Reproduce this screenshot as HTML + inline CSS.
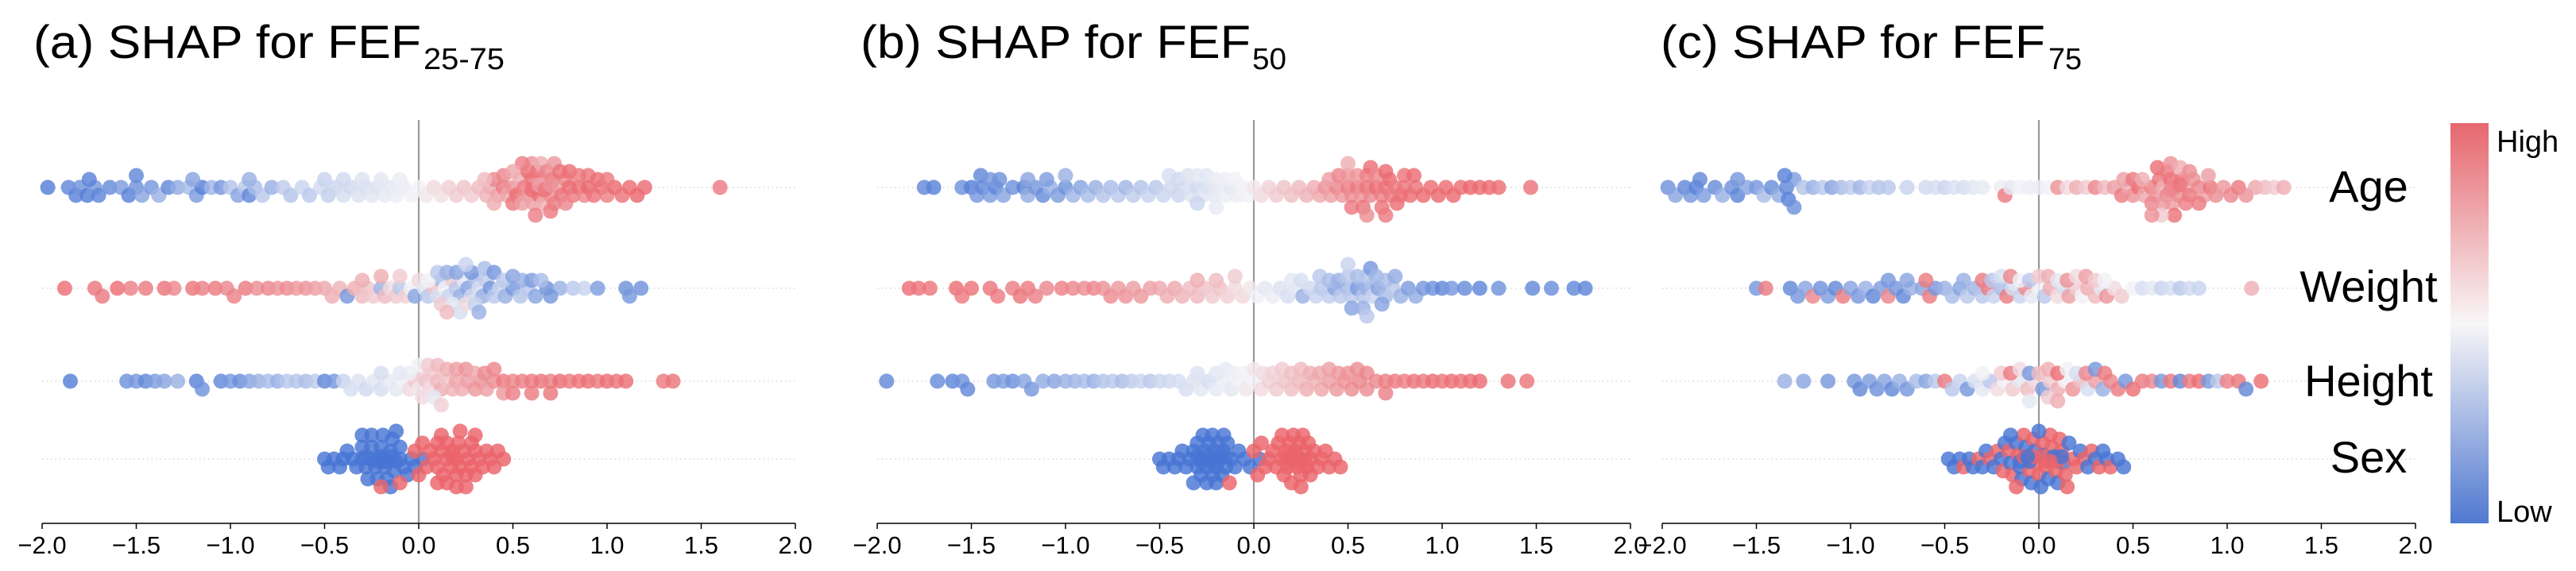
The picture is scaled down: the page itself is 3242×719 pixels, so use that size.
<!DOCTYPE html>
<html><head><meta charset="utf-8"><style>
html,body{margin:0;padding:0;background:#fff;}
svg{display:block;font-family:"Liberation Sans",Arial,sans-serif;}
</style></head><body>
<svg id="chart" width="3242" height="719" viewBox="0 0 3242 719" xmlns="http://www.w3.org/2000/svg">
<defs>
<linearGradient id="cbar" x1="0" y1="0" x2="0" y2="1">
<stop offset="0" stop-color="#e6676e"/>
<stop offset="0.5" stop-color="#f8f6f7"/>
<stop offset="1" stop-color="#5079d0"/>
</linearGradient>
</defs>
<g id="panels"></g>
<rect x="3084" y="155" width="48" height="504" fill="url(#cbar)"/>
<text x="3142" y="191" font-size="38">High</text>
<text x="3142" y="657" font-size="38">Low</text>
</svg>
<script>
// ---- data ----
const FEATURES = ["Age","Weight","Height","Sex"];
const X_TICKS = [-2.0,-1.5,-1.0,-0.5,0.0,0.5,1.0,1.5,2.0];
const X_TICK_LABELS = ["\u22122.0","\u22121.5","\u22121.0","\u22120.5","0.0","0.5","1.0","1.5","2.0"];
const PANEL_TITLES = ["(a) SHAP for FEF","(b) SHAP for FEF","(c) SHAP for FEF"];
const PANEL_SUBS = ["25-75","50","75"];

const A_AGE_X = [-1.97,-1.86,-1.82,-1.8,-1.76,-1.72,-1.7,-1.64,-1.58,-1.54,-1.5,-1.47,-1.42,-1.38,-1.33,-1.28,-1.22,-1.18,-1.15,-1.1,-1.05,-1.0,-0.96,-0.92,-0.9,-0.87,-0.83,-0.78,-0.72,-0.68,-0.62,-0.58,-0.52,-0.48,-0.44,-0.4,-0.36,-0.32,-0.28,-0.25,-0.22,-0.18,-0.15,-0.12,-0.08,-0.04,0.0,0.04,0.08,0.12,0.16,0.2,0.24,0.28,0.32,0.36,0.38,0.4,0.42,0.45,0.47,0.5,0.52,0.54,0.56,0.58,0.6,0.61,0.62,0.64,0.65,0.66,0.68,0.7,0.71,0.72,0.74,0.76,0.78,0.8,0.82,0.85,0.88,0.9,0.93,0.97,1.0,1.04,1.08,1.12,1.16,1.2,1.6];
const A_AGE_C = [0.02,0.05,0.03,0.08,0.02,0.1,0.04,0.06,0.12,0.03,0.08,0.15,0.1,0.2,0.05,0.18,0.25,0.12,0.02,0.22,0.1,0.28,0.15,0.3,0.05,0.25,0.3,0.2,0.32,0.28,0.35,0.3,0.38,0.33,0.36,0.4,0.38,0.42,0.4,0.44,0.42,0.46,0.45,0.48,0.47,0.5,0.5,0.52,0.55,0.54,0.58,0.6,0.62,0.6,0.65,0.68,0.7,0.85,0.75,0.9,0.72,0.8,0.95,0.7,0.88,0.78,0.92,0.75,0.85,0.95,0.8,0.7,0.9,0.82,0.97,0.88,0.75,0.92,0.85,0.95,0.9,0.95,0.85,0.98,0.92,0.95,0.88,0.97,0.93,0.95,0.98,0.96,0.9];
const A_AGE_X2 = [0.45,0.5,0.55,0.58,0.6,0.62,0.63,0.65,0.66,0.68,0.7,0.72,0.75,0.78,0.6,0.64,0.67,0.7,0.55,0.5,0.8,0.85,0.9,0.95,1.0,0.35,0.4,-0.3,-0.2,-0.1,-0.4,-0.5,-1.2,-1.5,-1.75,-0.9];
const A_AGE_C2 = [0.85,0.9,0.75,0.95,0.8,0.88,0.92,0.7,0.95,0.85,0.9,0.78,0.93,0.85,0.95,0.75,0.9,0.8,0.88,0.72,0.95,0.9,0.92,0.95,0.9,0.65,0.7,0.42,0.45,0.48,0.38,0.35,0.15,0.05,0.03,0.2];
const A_WEIGHT_X = [-1.88,-1.72,-1.68,-1.6,-1.53,-1.45,-1.35,-1.3,-1.2,-1.15,-1.08,-1.02,-0.98,-0.92,-0.86,-0.8,-0.75,-0.7,-0.65,-0.6,-0.55,-0.5,-0.46,-0.42,-0.38,-0.34,-0.3,-0.27,-0.24,-0.2,-0.18,-0.15,-0.12,-0.1,-0.07,-0.04,-0.02,0.0,0.03,0.05,0.08,0.1,0.12,0.14,0.16,0.18,0.2,0.22,0.24,0.26,0.28,0.3,0.32,0.34,0.36,0.38,0.4,0.43,0.46,0.5,0.54,0.58,0.62,0.68,0.75,0.82,0.88,0.95,1.1,1.12,1.18];
const A_WEIGHT_C = [0.95,0.92,0.9,0.95,0.88,0.9,0.93,0.85,0.92,0.88,0.9,0.85,0.87,0.9,0.82,0.85,0.8,0.83,0.78,0.8,0.75,0.72,0.7,0.68,0.1,0.7,0.65,0.62,0.6,0.2,0.65,0.55,0.6,0.3,0.58,0.5,0.15,0.55,0.45,0.3,0.62,0.4,0.25,0.5,0.35,0.6,0.3,0.2,0.45,0.15,0.38,0.25,0.4,0.2,0.32,0.1,0.3,0.35,0.2,0.1,0.28,0.3,0.15,0.08,0.2,0.3,0.35,0.12,0.08,0.1,0.08];
const A_WEIGHT_X2 = [0.05,0.1,0.12,0.15,0.18,0.2,0.22,0.25,0.28,0.3,0.32,0.35,0.4,0.45,0.5,0.55,0.6,0.65,0.7,-0.1,-0.2,-0.3,0.15,0.25];
const A_WEIGHT_C2 = [0.5,0.3,0.6,0.2,0.45,0.15,0.4,0.55,0.1,0.35,0.2,0.25,0.1,0.3,0.15,0.2,0.12,0.25,0.1,0.6,0.7,0.7,0.65,0.35];
const A_HEIGHT_X = [-1.85,-1.55,-1.5,-1.45,-1.4,-1.35,-1.28,-1.18,-1.15,-1.05,-1.0,-0.95,-0.9,-0.85,-0.8,-0.75,-0.7,-0.65,-0.6,-0.55,-0.5,-0.45,-0.4,-0.36,-0.32,-0.28,-0.24,-0.2,-0.16,-0.12,-0.08,-0.05,-0.02,0.0,0.02,0.04,0.06,0.08,0.1,0.12,0.15,0.18,0.2,0.23,0.26,0.3,0.33,0.36,0.4,0.45,0.5,0.55,0.6,0.65,0.7,0.75,0.8,0.85,0.9,0.95,1.0,1.05,1.1,1.3,1.35];
const A_HEIGHT_C = [0.02,0.08,0.1,0.05,0.12,0.15,0.2,0.03,0.08,0.05,0.1,0.07,0.15,0.2,0.25,0.2,0.3,0.28,0.25,0.32,0.05,0.1,0.35,0.4,0.42,0.38,0.44,0.4,0.46,0.45,0.5,0.55,0.6,0.52,0.58,0.62,0.55,0.6,0.65,0.7,0.62,0.68,0.72,0.7,0.75,0.78,0.8,0.75,0.82,0.9,0.85,0.88,0.9,0.92,0.88,0.95,0.9,0.93,0.95,0.9,0.95,0.92,0.95,0.9,0.92];
const A_HEIGHT_X2 = [0.0,0.02,0.05,0.08,0.1,0.12,0.15,0.2,0.25,0.3,0.35,0.4,0.45,0.5,0.6,0.7,-0.05,-0.1,-0.2];
const A_HEIGHT_C2 = [0.5,0.55,0.6,0.45,0.65,0.58,0.7,0.75,0.8,0.72,0.82,0.85,0.78,0.88,0.9,0.92,0.48,0.45,0.4];
const A_SEX_X = [-0.5,-0.48,-0.45,-0.42,-0.4,-0.38,-0.35,-0.33,-0.3,-0.3,-0.28,-0.27,-0.25,-0.25,-0.23,-0.22,-0.2,-0.2,-0.19,-0.18,-0.17,-0.16,-0.15,-0.15,-0.14,-0.13,-0.12,-0.1,-0.1,-0.08,-0.06,-0.04,-0.02,0.02,-0.2,-0.1,-0.02,0.0,0.02,0.04,0.06,0.08,0.1,0.1,0.12,0.13,0.15,0.15,0.17,0.18,0.2,0.2,0.21,0.22,0.24,0.25,0.26,0.28,0.3,0.3,0.32,0.34,0.36,0.38,0.4,0.42,0.45];
const A_SEX_C = [0,0,0,0,0,0,0,0,0,0,0,0,0,0,0,0,0,0,0,0,0,0,0,0,0,0,0,0,0,0,0,0,0,0,1,1,1,1,1,1,1,1,1,1,1,1,1,1,1,1,1,1,1,1,1,1,1,1,1,1,1,1,1,1,1,1,1];
const A_SEX_X2 = [-0.3,-0.25,-0.22,-0.2,-0.18,-0.15,-0.12,-0.28,-0.16,0.1,0.15,0.2,0.22,0.25,0.28,0.18,0.12,0.3];
const A_SEX_C2 = [0,0,0,0,0,0,0,0,0,1,1,1,1,1,1,1,1,1];

const B_AGE_X = [-1.75,-1.7,-1.55,-1.5,-1.47,-1.44,-1.4,-1.37,-1.33,-1.28,-1.22,-1.2,-1.16,-1.12,-1.08,-1.04,-1.0,-0.96,-0.92,-0.88,-0.84,-0.8,-0.76,-0.72,-0.68,-0.64,-0.6,-0.56,-0.52,-0.48,-0.44,-0.4,-0.36,-0.33,-0.3,-0.27,-0.24,-0.21,-0.18,-0.15,-0.12,-0.09,-0.06,-0.03,0.0,0.04,0.08,0.12,0.16,0.2,0.24,0.28,0.32,0.35,0.38,0.41,0.44,0.47,0.5,0.52,0.55,0.57,0.6,0.62,0.65,0.68,0.7,0.72,0.75,0.78,0.8,0.83,0.86,0.9,0.94,0.98,1.02,1.06,1.1,1.15,1.2,1.25,1.3,1.47];
const B_AGE_C = [0.05,0.03,0.08,0.02,0.1,0.05,0.12,0.04,0.15,0.08,0.03,0.18,0.1,0.06,0.2,0.12,0.08,0.22,0.15,0.25,0.2,0.28,0.25,0.3,0.22,0.32,0.28,0.35,0.3,0.36,0.38,0.36,0.4,0.42,0.38,0.44,0.42,0.45,0.46,0.48,0.44,0.48,0.5,0.5,0.52,0.55,0.58,0.6,0.62,0.64,0.66,0.68,0.7,0.72,0.8,0.75,0.85,0.78,0.88,0.82,0.9,0.8,0.92,0.85,0.95,0.88,0.93,0.97,0.9,0.95,0.92,0.95,0.93,0.97,0.95,0.98,0.96,0.97,0.95,0.98,0.97,0.96,0.95,0.93];
const B_AGE_X2 = [0.4,0.45,0.5,0.52,0.55,0.58,0.6,0.62,0.65,0.68,0.7,0.73,0.76,0.8,0.85,0.5,0.6,0.7,-0.45,-0.4,-0.35,-0.3,-0.25,-0.2,-0.15,-0.1,-0.3,-0.2,-1.45,-1.4,-1.35,-1.2,-1.1,-1.0];
const B_AGE_C2 = [0.75,0.85,0.8,0.9,0.78,0.92,0.88,0.95,0.85,0.93,0.97,0.9,0.95,0.93,0.96,0.7,0.82,0.9,0.4,0.38,0.42,0.45,0.44,0.47,0.48,0.5,0.36,0.46,0.05,0.1,0.08,0.15,0.12,0.2];
const B_WEIGHT_X = [-1.83,-1.78,-1.72,-1.58,-1.55,-1.5,-1.4,-1.36,-1.28,-1.24,-1.2,-1.16,-1.1,-1.02,-0.96,-0.9,-0.85,-0.8,-0.76,-0.72,-0.68,-0.64,-0.6,-0.55,-0.5,-0.46,-0.42,-0.38,-0.34,-0.3,-0.26,-0.22,-0.18,-0.14,-0.1,-0.06,-0.02,0.02,0.06,0.1,0.14,0.18,0.22,0.26,0.3,0.33,0.36,0.4,0.43,0.46,0.5,0.52,0.55,0.58,0.6,0.63,0.66,0.7,0.74,0.78,0.82,0.86,0.9,0.95,1.0,1.05,1.12,1.2,1.3,1.48,1.58,1.7,1.76];
const B_WEIGHT_C = [0.95,0.93,0.92,0.95,0.9,0.93,0.92,0.9,0.88,0.92,0.9,0.88,0.85,0.88,0.85,0.82,0.85,0.8,0.83,0.78,0.8,0.75,0.78,0.75,0.72,0.7,0.72,0.68,0.65,0.66,0.62,0.6,0.62,0.58,0.55,0.56,0.52,0.5,0.45,0.48,0.42,0.4,0.45,0.2,0.38,0.35,0.3,0.32,0.15,0.3,0.25,0.3,0.12,0.28,0.2,0.35,0.15,0.25,0.3,0.2,0.12,0.18,0.1,0.08,0.05,0.1,0.06,0.04,0.08,0.05,0.07,0.05,0.04];
const B_WEIGHT_X2 = [0.35,0.4,0.45,0.5,0.52,0.55,0.58,0.6,0.62,0.65,0.68,0.7,0.75,0.5,0.6,0.2,0.25,-0.2,-0.3,-0.1];
const B_WEIGHT_C2 = [0.3,0.25,0.2,0.3,0.15,0.25,0.2,0.28,0.1,0.22,0.15,0.25,0.18,0.35,0.3,0.45,0.4,0.65,0.7,0.6];
const B_HEIGHT_X = [-1.95,-1.68,-1.6,-1.55,-1.52,-1.38,-1.33,-1.28,-1.22,-1.18,-1.12,-1.06,-1.0,-0.95,-0.9,-0.85,-0.8,-0.75,-0.7,-0.65,-0.6,-0.55,-0.5,-0.45,-0.4,-0.36,-0.32,-0.28,-0.24,-0.2,-0.16,-0.12,-0.08,-0.04,0.0,0.04,0.08,0.12,0.16,0.2,0.24,0.28,0.32,0.36,0.4,0.44,0.48,0.52,0.56,0.6,0.65,0.7,0.75,0.8,0.85,0.9,0.95,1.0,1.05,1.1,1.15,1.2,1.35,1.45];
const B_HEIGHT_C = [0.05,0.06,0.04,0.08,0.05,0.1,0.12,0.08,0.15,0.1,0.18,0.15,0.2,0.22,0.25,0.2,0.28,0.3,0.25,0.32,0.35,0.3,0.36,0.38,0.4,0.4,0.42,0.44,0.4,0.46,0.48,0.45,0.5,0.52,0.5,0.55,0.58,0.6,0.62,0.64,0.66,0.7,0.68,0.72,0.75,0.78,0.8,0.82,0.85,0.83,0.85,0.88,0.9,0.88,0.92,0.9,0.95,0.92,0.95,0.93,0.95,0.96,0.94,0.92];
const B_HEIGHT_X2 = [-0.3,-0.2,-0.15,-0.1,-0.05,0.0,0.05,0.1,0.15,0.2,0.25,0.3,0.35,0.4,0.45,0.5,0.55,0.6,0.7];
const B_HEIGHT_C2 = [0.42,0.44,0.46,0.48,0.5,0.52,0.55,0.58,0.6,0.64,0.66,0.7,0.72,0.75,0.78,0.8,0.82,0.85,0.88];
const B_SEX_X = [-0.5,-0.48,-0.45,-0.42,-0.4,-0.38,-0.36,-0.34,-0.32,-0.3,-0.3,-0.28,-0.28,-0.27,-0.26,-0.25,-0.25,-0.24,-0.23,-0.22,-0.22,-0.21,-0.2,-0.2,-0.19,-0.18,-0.17,-0.16,-0.15,-0.14,-0.12,-0.1,-0.08,-0.05,-0.02,0.03,-0.13,0.0,0.02,0.04,0.06,0.08,0.1,0.12,0.13,0.15,0.16,0.17,0.18,0.19,0.2,0.2,0.21,0.22,0.23,0.24,0.25,0.25,0.26,0.27,0.28,0.3,0.32,0.34,0.36,0.38,0.4,0.43,0.46];
const B_SEX_C = [0,0,0,0,0,0,0,0,0,0,0,0,0,0,0,0,0,0,0,0,0,0,0,0,0,0,0,0,0,0,0,0,0,0,0,0,1,1,1,1,1,1,1,1,1,1,1,1,1,1,1,1,1,1,1,1,1,1,1,1,1,1,1,1,1,1,1,1,1];
const B_SEX_X2 = [-0.32,-0.3,-0.28,-0.26,-0.24,-0.22,-0.2,-0.18,-0.16,-0.15,0.15,0.17,0.19,0.21,0.23,0.25,0.27,0.29,0.3,0.2];
const B_SEX_C2 = [0,0,0,0,0,0,0,0,0,0,1,1,1,1,1,1,1,1,1,1];

const C_AGE_X = [-1.97,-1.93,-1.88,-1.85,-1.82,-1.78,-1.72,-1.68,-1.63,-1.6,-1.55,-1.5,-1.46,-1.42,-1.38,-1.34,-1.33,-1.3,-1.25,-1.2,-1.15,-1.1,-1.05,-1.0,-0.95,-0.9,-0.85,-0.8,-0.7,-0.6,-0.55,-0.5,-0.45,-0.4,-0.35,-0.3,-0.2,-0.18,-0.15,-0.1,-0.05,0.0,0.05,0.1,0.15,0.2,0.25,0.3,0.35,0.4,0.44,0.48,0.5,0.53,0.56,0.6,0.62,0.64,0.66,0.68,0.7,0.71,0.72,0.74,0.76,0.78,0.8,0.82,0.85,0.88,0.91,0.94,0.98,1.02,1.06,1.1,1.15,1.2,1.25,1.3];
const C_AGE_C = [0.08,0.15,0.05,0.1,0.03,0.12,0.06,0.2,0.08,0.04,0.15,0.1,0.25,0.07,0.18,0.05,0.03,0.12,0.28,0.2,0.3,0.15,0.25,0.32,0.22,0.35,0.28,0.3,0.35,0.38,0.4,0.36,0.42,0.4,0.44,0.46,0.48,0.9,0.45,0.5,0.48,0.47,0.5,0.8,0.55,0.7,0.6,0.85,0.65,0.75,0.9,0.7,0.8,0.95,0.72,0.88,0.78,0.92,0.7,0.85,0.95,0.75,0.88,0.82,0.93,0.7,0.9,0.8,0.85,0.75,0.92,0.82,0.78,0.85,0.9,0.8,0.72,0.65,0.6,0.7];
const C_AGE_X2 = [0.45,0.5,0.55,0.6,0.63,0.66,0.68,0.7,0.72,0.75,0.78,0.8,0.85,0.9,0.65,0.7,0.75,0.6,-1.8,-1.6,-1.35,-1.3];
const C_AGE_C2 = [0.75,0.9,0.7,0.85,0.95,0.78,0.9,0.8,0.93,0.7,0.88,0.82,0.9,0.75,0.6,0.85,0.92,0.8,0.05,0.1,0.03,0.08];
const C_WEIGHT_X = [-1.5,-1.45,-1.32,-1.28,-1.24,-1.2,-1.16,-1.12,-1.08,-1.04,-1.0,-0.96,-0.92,-0.88,-0.84,-0.8,-0.76,-0.72,-0.68,-0.62,-0.58,-0.55,-0.5,-0.46,-0.42,-0.38,-0.34,-0.3,-0.27,-0.24,-0.2,-0.17,-0.14,-0.1,-0.07,-0.04,0.0,0.03,0.06,0.1,0.13,0.16,0.2,0.23,0.26,0.3,0.33,0.36,0.4,0.44,0.5,0.55,0.6,0.65,0.7,0.75,0.8,0.85,1.13];
const C_WEIGHT_C = [0.1,0.9,0.05,0.1,0.15,0.85,0.08,0.12,0.05,0.9,0.15,0.1,0.2,0.05,0.12,0.85,0.1,0.05,0.2,0.15,0.9,0.1,0.2,0.25,0.15,0.3,0.22,0.3,0.9,0.35,0.25,0.9,0.4,0.35,0.85,0.45,0.5,0.3,0.7,0.55,0.4,0.75,0.6,0.5,0.7,0.65,0.45,0.8,0.55,0.6,0.5,0.4,0.45,0.35,0.4,0.3,0.38,0.35,0.7];
const C_WEIGHT_X2 = [-0.4,-0.3,-0.25,-0.2,-0.15,-0.1,-0.05,0.0,0.05,0.1,0.15,0.2,0.25,0.3,0.35,-0.8,-0.7,-0.6];
const C_WEIGHT_C2 = [0.2,0.9,0.3,0.4,0.85,0.5,0.3,0.6,0.7,0.45,0.8,0.55,0.75,0.6,0.5,0.1,0.15,0.9];
const C_HEIGHT_X = [-1.35,-1.25,-1.12,-0.98,-0.95,-0.9,-0.86,-0.82,-0.78,-0.74,-0.7,-0.65,-0.6,-0.55,-0.5,-0.46,-0.42,-0.38,-0.34,-0.3,-0.26,-0.22,-0.18,-0.14,-0.1,-0.06,-0.02,0.02,0.06,0.1,0.14,0.18,0.22,0.26,0.3,0.34,0.38,0.42,0.46,0.5,0.55,0.6,0.65,0.7,0.75,0.8,0.85,0.9,0.95,1.0,1.06,1.1,1.18];
const C_HEIGHT_C = [0.2,0.15,0.1,0.1,0.05,0.12,0.08,0.15,0.05,0.2,0.1,0.25,0.15,0.3,0.9,0.3,0.35,0.1,0.4,0.45,0.3,0.55,0.5,0.6,0.45,0.65,0.55,0.1,0.6,0.7,0.5,0.8,0.65,0.4,0.75,0.2,0.85,0.9,0.1,0.95,0.9,0.85,0.1,0.92,0.05,0.9,0.95,0.1,0.3,0.88,0.92,0.05,0.95];
const C_HEIGHT_X2 = [-0.3,-0.2,-0.15,-0.1,-0.05,0.0,0.05,0.1,0.15,0.2,0.25,0.3,0.35,0.05,-0.05,0.1];
const C_HEIGHT_C2 = [0.5,0.6,0.9,0.55,0.1,0.65,0.7,0.95,0.5,0.4,0.85,0.1,0.9,0.6,0.45,0.7];
const C_SEX_X = [-0.48,-0.45,-0.42,-0.4,-0.37,-0.35,-0.32,-0.3,-0.28,-0.26,-0.24,-0.22,-0.2,-0.19,-0.18,-0.16,-0.15,-0.14,-0.12,-0.11,-0.1,-0.09,-0.08,-0.07,-0.06,-0.05,-0.04,-0.03,-0.02,-0.01,0.0,0.01,0.02,0.03,0.04,0.05,0.06,0.07,0.08,0.09,0.1,0.11,0.12,0.13,0.14,0.16,0.18,0.2,0.22,0.24,0.26,0.28,0.3,0.32,0.34,0.36,0.38,0.42,0.45];
const C_SEX_C = [0,0,0,1,0,0,1,0,0,1,0,1,0,1,0,1,0,1,0,1,0,0,1,0,1,1,0,1,0,1,1,0,1,0,1,0,1,1,0,1,0,1,1,0,1,0,1,1,0,1,0,1,0,1,0,0,1,0,0];
const C_SEX_X2 = [-0.15,-0.12,-0.1,-0.08,-0.05,-0.03,0.0,0.02,0.05,0.08,0.1,0.12,0.15,-0.06,0.06];
const C_SEX_C2 = [0,1,0,1,0,1,0,1,1,0,1,0,1,0,1];

// ---- layout ----
const PANEL_LEFT = [53, 1104, 2092];
const PANEL_W = 948;
const ROW_Y = [236, 363, 480, 578];
const AXIS_Y = 659;
const R = 9.5;
const SERIES = [
  [[A_AGE_X.concat(A_AGE_X2),A_AGE_C.concat(A_AGE_C2)],[A_WEIGHT_X.concat(A_WEIGHT_X2),A_WEIGHT_C.concat(A_WEIGHT_C2)],[A_HEIGHT_X.concat(A_HEIGHT_X2),A_HEIGHT_C.concat(A_HEIGHT_C2)],[A_SEX_X.concat(A_SEX_X2),A_SEX_C.concat(A_SEX_C2)]],
  [[B_AGE_X.concat(B_AGE_X2),B_AGE_C.concat(B_AGE_C2)],[B_WEIGHT_X.concat(B_WEIGHT_X2),B_WEIGHT_C.concat(B_WEIGHT_C2)],[B_HEIGHT_X.concat(B_HEIGHT_X2),B_HEIGHT_C.concat(B_HEIGHT_C2)],[B_SEX_X.concat(B_SEX_X2),B_SEX_C.concat(B_SEX_C2)]],
  [[C_AGE_X.concat(C_AGE_X2),C_AGE_C.concat(C_AGE_C2)],[C_WEIGHT_X.concat(C_WEIGHT_X2),C_WEIGHT_C.concat(C_WEIGHT_C2)],[C_HEIGHT_X.concat(C_HEIGHT_X2),C_HEIGHT_C.concat(C_HEIGHT_C2)],[C_SEX_X.concat(C_SEX_X2),C_SEX_C.concat(C_SEX_C2)]]
];
const TITLE_POS = [[42,488,533,102],[1083,491,1576,43],[2090,484,2578,42]];

const NS = "http://www.w3.org/2000/svg";
function mk(tag, attrs, parent){
  const e = document.createElementNS(NS, tag);
  for (const k in attrs) e.setAttribute(k, attrs[k]);
  parent.appendChild(e);
  return e;
}
function colorOf(v){
  const b=[72,117,212], w=[242,242,246], r=[234,100,106];
  let a,c,t;
  if (v<0.5){a=b;c=w;t=v/0.5;} else {a=w;c=r;t=(v-0.5)/0.5;}
  t = Math.pow(t, 0.8);
  const m=a.map((x,i)=>Math.round(x+(c[i]-x)*t));
  return "rgb("+m.join(",")+")";
}
function swarm(xs){
  const placed=[]; const ys=[];
  const D=11, step=5;
  for (let i=0;i<xs.length;i++){
    const x=xs[i]; let chosen=null;
    for (let k=0;k<=7;k++){
      const cands = k===0?[0]:[k*step,-k*step];
      for (const dy of cands){
        let ok=true;
        for (const p of placed){ const dx=p[0]-x, dd=p[1]-dy; if (dx*dx+dd*dd<D*D){ok=false;break;} }
        if (ok){chosen=dy;break;}
      }
      if (chosen!==null) break;
    }
    if (chosen===null) chosen=((i%2)?1:-1)*3;
    placed.push([x,chosen]); ys[i]=chosen;
  }
  return ys;
}

const root = document.getElementById("panels");
for (let p=0;p<3;p++){
  const left = PANEL_LEFT[p];
  const xs = v => left + (v+2)/4*PANEL_W;
  const g = mk("g",{},root);
  
  

  const tp = TITLE_POS[p];
  const t1 = mk("text",{x:tp[0],y:73,"font-size":58,textLength:tp[1],lengthAdjust:"spacingAndGlyphs"},g);
  t1.textContent = PANEL_TITLES[p];
  
  
  const t2 = mk("text",{x:tp[2],y:87,"font-size":38,textLength:tp[3],lengthAdjust:"spacingAndGlyphs"},g);
  t2.textContent = PANEL_SUBS[p];
  
  

  for (let r=0;r<4;r++){
    const l = mk("line",{x1:left,x2:left+PANEL_W,y1:ROW_Y[r],y2:ROW_Y[r],stroke:"#cfcfcf","stroke-width":1.2,"stroke-dasharray":"1.5 4"},g);
    
    
  }
  const z = mk("line",{x1:xs(0),x2:xs(0),y1:151,y2:AXIS_Y,stroke:"#999","stroke-width":2.2},g);
  
  

  for (let r=0;r<4;r++){
    const [vx, vc] = SERIES[p][r];
    const px = vx.map(xs);
    const dy = swarm(px);
    const gg = mk("g",{},g);
    
    
    for (let i=0;i<vx.length;i++){
      const c = mk("circle",{cx:px[i].toFixed(1),cy:(ROW_Y[r]+dy[i]).toFixed(1),r:R,fill:colorOf(vc[i]!==undefined?vc[i]:0.5),"fill-opacity":0.82},gg);
      
      
    }
  }

  const ax = mk("line",{x1:xs(-2),x2:xs(2),y1:AXIS_Y,y2:AXIS_Y,stroke:"#000","stroke-width":1.6},g);
  
  
  for (let i=0;i<X_TICKS.length;i++){
    const x = xs(X_TICKS[i]);
    const tk = mk("line",{x1:x,x2:x,y1:AXIS_Y,y2:AXIS_Y+7,stroke:"#000","stroke-width":1.5},g);
    
    
    const tl = mk("text",{x:x,y:697,"font-size":31,"text-anchor":"middle"},g);
    tl.textContent = X_TICK_LABELS[i];
    
    
  }
}
const LABEL_Y = [254, 380, 499, 595];
for (let r=0;r<4;r++){
  const t = mk("text",{x:2981,y:LABEL_Y[r],"font-size":56,"text-anchor":"middle"},document.getElementById("chart"));
  t.textContent = FEATURES[r];
  
  
}
</script>
</body></html>
